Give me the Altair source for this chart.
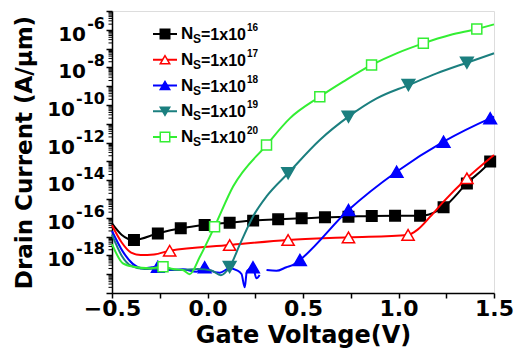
import altair as alt
import numpy as np
import pandas as pd

# Gate voltage (V), log10 of drain current (A/um), marker flag, path segment
black_v = [-0.50, -0.45, -0.385, -0.26, -0.14, -0.015, 0.116, 0.239, 0.37, 0.493, 0.615, 0.738, 0.86, 0.982, 1.113, 1.16, 1.236, 1.358, 1.48, 1.50]
black_e = [-16.3, -16.9, -17.18, -16.83, -16.56, -16.38, -16.26, -16.15, -16.08, -16.03, -15.97, -15.94, -15.90, -15.89, -15.89, -15.82, -15.44, -14.17, -13.01, -12.75]
black_m = [0, 0, 1, 1, 1, 1, 1, 1, 1, 1, 1, 1, 1, 1, 1, 0, 1, 1, 1, 0]

red_v = [-0.50, -0.45, -0.40, -0.35, -0.28, -0.198, 0.116, 0.422, 0.738, 1.05, 1.10, 1.166, 1.236, 1.358, 1.50]
red_e = [-16.4, -17.3, -17.85, -17.98, -17.95, -17.75, -17.45, -17.18, -17.04, -16.91, -16.63, -15.94, -15.14, -13.90, -12.66]
red_m = [0, 0, 0, 0, 0, 1, 1, 1, 1, 1, 0, 0, 0, 1, 0]

blue_v = [-0.50, -0.443, -0.391, -0.338, -0.29, -0.26, -0.198, -0.129, -0.058, -0.015, 0.011, 0.064, 0.116, 0.151, 0.178, 0.195, 0.205, 0.212, 0.238, 0.256, 0.273,
          0.309, 0.361, 0.413, 0.448, 0.484, 0.738, 0.99, 1.236, 1.48, 1.50]
blue_e = [-16.7, -17.80, -18.45, -18.69, -18.63, -18.6, -18.78, -18.74, -18.87, -18.63, -18.78, -18.92, -18.69, -18.78, -18.99, -19.7, -18.9, -18.78, -18.63, -19.22, -19.04,
          -18.78, -18.82, -18.63, -18.51, -18.24, -15.59, -13.55, -11.95, -10.71, -10.62]
blue_m = [0, 0, 0, 0, 0, 1, 0, 0, 0, 1, 0, 0, 0, 0, 0, 0, 0, 0, 1, 0, 0,
          0, 0, 0, 0, 1, 1, 1, 1, 1, 0]
blue_s = [0] * 21 + [1] * 10

teal_v = [-0.50, -0.45, -0.40, -0.33, -0.25, -0.15, -0.05, 0.02, 0.07, 0.116, 0.17, 0.24, 0.31, 0.422, 0.588, 0.738, 0.886, 1.052, 1.20, 1.358, 1.50]
teal_e = [-16.9, -18.0, -18.55, -18.72, -18.70, -18.78, -18.72, -18.80, -19.05, -18.62, -17.4, -15.9, -14.85, -13.63, -11.86, -10.62, -9.65, -8.94, -8.32, -7.75, -7.25]
teal_m = [0, 0, 0, 0, 0, 0, 0, 0, 0, 1, 0, 0, 0, 1, 0, 1, 0, 1, 0, 1, 0]

green_v = [-0.50, -0.443, -0.39, -0.30, -0.233, -0.18, -0.13, -0.093, -0.04, 0.037, 0.134, 0.309, 0.431, 0.588, 0.711, 0.859, 0.99, 1.13, 1.27, 1.41, 1.50]
green_e = [-17.4, -18.42, -18.6, -18.68, -18.6, -18.72, -18.78, -19.0, -18.07, -16.47, -14.34, -12.13, -10.71, -9.56, -8.76, -7.87, -7.25, -6.72, -6.28, -5.96, -5.71]
green_m = [0, 0, 0, 0, 1, 0, 0, 0, 0, 1, 0, 1, 0, 1, 0, 1, 0, 1, 0, 1, 0]

exponents = ["16", "17", "18", "19", "20"]
colors = ["#000000", "#FF0000", "#0000FF", "#1B7F7F", "#33EE33"]
fills = ["#000000", "#FFFFFF", "#0000FF", "#1B7F7F", "#FFFFFF"]
shapes = ["square", "triangle-up", "triangle-up", "triangle-down", "square"]
sizes = [110, 150, 160, 160, 100]

# labelled decades on the current axis
label_exps = [-6, -8, -10, -12, -14, -16, -18]

FONT = "Liberation Sans"
AXFONT = "DejaVu Sans"

series = [
    (black_v, black_e, black_m, [0] * len(black_v)),
    (red_v, red_e, red_m, [0] * len(red_v)),
    (blue_v, blue_e, blue_m, blue_s),
    (teal_v, teal_e, teal_m, [0] * len(teal_v)),
    (green_v, green_e, green_m, [0] * len(green_v)),
]

xscale = alt.Scale(domain=[-0.5, 1.5], nice=False, zero=False)
yscale = alt.Scale(type="log", domain=[1e-20, 1e-5], nice=False)

X = alt.X("v:Q", scale=xscale, axis=alt.Axis(
    values=[-0.5, -0.25, 0, 0.25, 0.5, 0.75, 1.0, 1.25, 1.5],
    labelExpr="abs(datum.value*2 - round(datum.value*2)) < 0.001 ? format(datum.value, '.1f') : ''",
    tickSize=5, labelPadding=0, labelFontSize=22, labelFontWeight="bold", labelFont=AXFONT,
    title="Gate Voltage(V)", titleFontSize=24, titleFontWeight="bold", titleFont=AXFONT,
    titleX=191, titleY=49, titleBaseline="alphabetic", grid=False,
    domainColor="black", tickColor="black", labelColor="black", titleColor="black",
    domainWidth=1.5, tickWidth=1.5, labelFlush=False, labelOverlap=False))

Y = alt.Y("cur:Q", scale=yscale, axis=alt.Axis(
    values=[10.0 ** k for k in range(-20, -4)],
    labels=False, tickSize=6,
    title="Drain Current (A/μm)", titleFontSize=23, titleFontWeight="bold", titleFont=AXFONT,
    titleX=-88, titleY=141, titleAngle=-90, titleBaseline="middle", titleAlign="center",
    grid=False, domainColor="black", tickColor="black", titleColor="black",
    domainWidth=1.5, tickWidth=1.5))

# minor log ticks on the left axis
minor_vals = [k * 10.0 ** d for d in range(-20, -5) for k in range(2, 10)]
minor_df = pd.DataFrame({"cur": minor_vals})
minor = alt.Chart(minor_df).mark_rule(color="black", strokeWidth=1).encode(
    y=Y, x=alt.value(-3.5), x2=alt.value(0))

# power-of-ten tick labels: "10" with a raised exponent
lab_df = pd.DataFrame({"cur": [10.0 ** k for k in label_exps], "exp": [str(k) for k in label_exps]})
lab_txt = dict(font=AXFONT, fontWeight="bold", color="black", align="right", baseline="middle")
lab_exp = alt.Chart(lab_df).mark_text(fontSize=16, dy=-6, **lab_txt).encode(
    y=Y, x=alt.value(-7), text="exp:N")
lab_ten1 = alt.Chart(lab_df).transform_filter("length(datum.exp) == 2").mark_text(
    fontSize=20, dy=5, **lab_txt).encode(y=Y, x=alt.value(-26), text=alt.value("10"))
lab_ten2 = alt.Chart(lab_df).transform_filter("length(datum.exp) == 3").mark_text(
    fontSize=20, dy=5, **lab_txt).encode(y=Y, x=alt.value(-37), text=alt.value("10"))

layers = [minor, lab_exp, lab_ten1, lab_ten2]
for i, (v, e, m, s) in enumerate(series):
    df = pd.DataFrame({"v": v, "cur": 10.0 ** np.array(e), "m": m, "seg": s})
    line = alt.Chart(df).mark_line(color=colors[i], strokeWidth=2, interpolate="monotone").encode(
        x=X, y=Y, detail="seg:N")
    pts = alt.Chart(df).transform_filter("datum.m == 1").mark_point(
        shape=shapes[i], filled=True, fill=fills[i], stroke=colors[i], strokeWidth=1.5,
        size=sizes[i], opacity=1).encode(x=X, y=Y)
    layers += [line, pts]

main = alt.layer(*layers)

# legend block drawn inside the plot
leg_df = pd.DataFrame({
    "row": list(range(5)), "col": colors, "fill": fills, "shape": shapes, "exp": exponents,
})
LY = alt.Y("row:Q", scale=alt.Scale(domain=[0, 4], range=[23, 126]), axis=None)
leg_line = alt.Chart(leg_df).mark_rule(strokeWidth=2).encode(
    y=LY, x=alt.value(41), x2=alt.value(65), color=alt.Color("col:N", scale=None))
leg_pt = alt.Chart(leg_df).mark_point(filled=True, strokeWidth=1.5, size=90, opacity=1).encode(
    y=LY, x=alt.value(53), fill=alt.Fill("fill:N", scale=None), stroke=alt.Stroke("col:N", scale=None),
    shape=alt.Shape("shape:N", scale=None))
txt = dict(font=FONT, fontWeight="bold", color="black", align="left", baseline="middle")
leg_n = alt.Chart(leg_df).mark_text(fontSize=17, **txt).encode(y=LY, x=alt.value(69), text=alt.value("N"))
leg_s = alt.Chart(leg_df).mark_text(fontSize=12, dy=5, **txt).encode(y=LY, x=alt.value(81), text=alt.value("S"))
leg_eq = alt.Chart(leg_df).mark_text(fontSize=16, dy=1, **txt).encode(y=LY, x=alt.value(89), text=alt.value("=1x10"))
leg_ex = alt.Chart(leg_df).mark_text(fontSize=10, dy=-6, **txt).encode(y=LY, x=alt.value(135), text="exp:N")
legend = alt.layer(leg_line, leg_pt, leg_n, leg_s, leg_eq, leg_ex)

chart = alt.layer(main, legend).resolve_scale(y="independent").properties(
    width=382, height=282,
    autosize=alt.AutoSizeParams(type="none"),
    padding={"left": 112, "top": 11, "right": 23, "bottom": 67},
).configure_view(stroke="black", strokeWidth=1.5).configure(background="white")

chart.save("out.html", embed_options={"renderer": "svg", "actions": False})
